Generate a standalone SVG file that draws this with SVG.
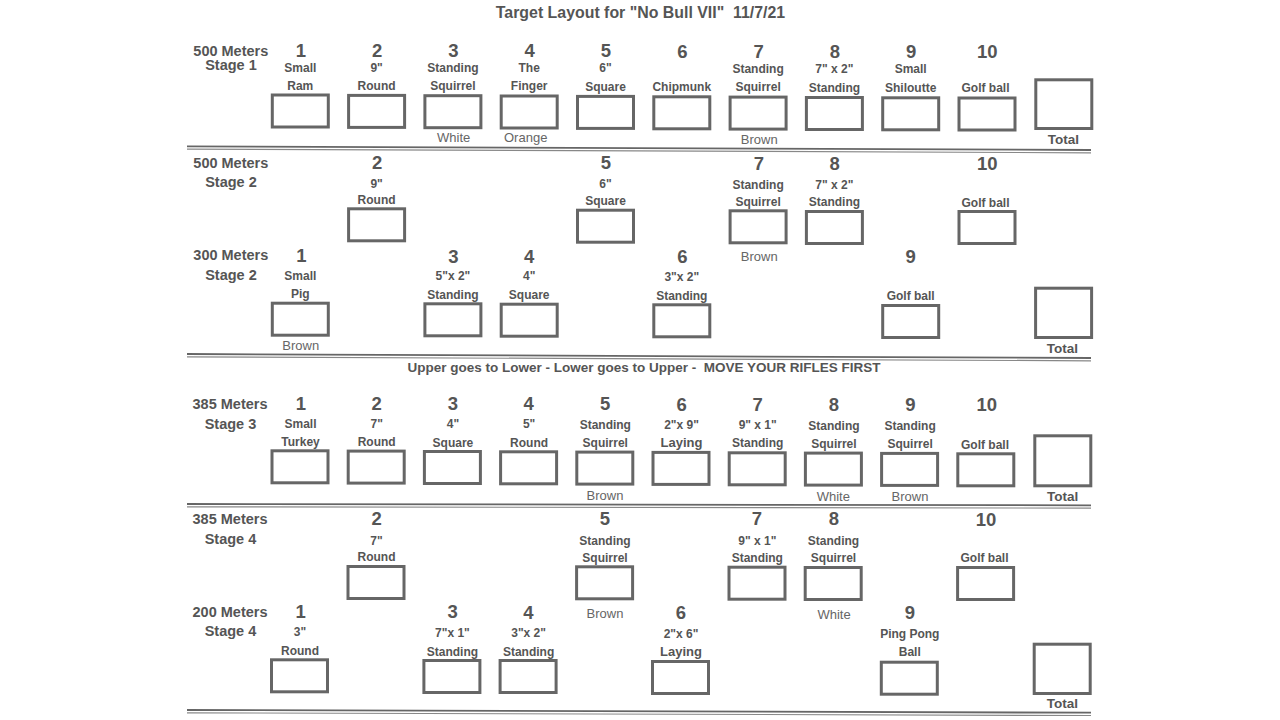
<svg xmlns="http://www.w3.org/2000/svg" width="1280" height="720" viewBox="0 0 1280 720">
<style>
text{font-family:"Liberation Sans",Arial,sans-serif;text-anchor:middle;fill:#555}
.ttl{font-size:15.9px;font-weight:bold}
.stg{font-size:14.5px;font-weight:bold}
.num{font-size:18.5px;font-weight:bold}
.lbl{font-size:12px;font-weight:bold}
.lay{font-size:13px;font-weight:bold}
.clr{font-size:13px;fill:#666}
.tot{font-size:13.5px;font-weight:bold}
.note{font-size:13.5px;font-weight:bold}
.box{fill:none;stroke:#666;stroke-width:3}
.sepA{stroke:#666;stroke-width:1.8}
.sepB{stroke:#888;stroke-width:1.2}
</style>
<rect width="1280" height="720" fill="#fff"/>
<text class="ttl" x="640.5" y="18" xml:space="preserve">Target Layout for "No Bull VII"  11/7/21</text>

<g id="separators">
<line class="sepA" x1="187" y1="146.3" x2="1091" y2="150"/>
<line class="sepB" x1="187" y1="149.1" x2="1091" y2="152.8"/>
<line class="sepA" x1="187" y1="354" x2="1091" y2="358"/>
<line class="sepB" x1="187" y1="356.8" x2="1091" y2="360.8"/>
<line class="sepA" x1="187" y1="504" x2="1091" y2="505.3"/>
<line class="sepB" x1="187" y1="506.8" x2="1091" y2="508.1"/>
<line class="sepA" x1="187" y1="710" x2="1091" y2="712.7"/>
<line class="sepB" x1="187" y1="712.8" x2="1091" y2="715.5"/>
</g>

<text class="note" x="644" y="371.5" xml:space="preserve">Upper goes to Lower - Lower goes to Upper -  MOVE YOUR RIFLES FIRST</text>

<!-- Section 1: 500 Meters Stage 1 -->
<g id="s1-label"><text class="stg" x="230.8" y="56">500 Meters</text><text class="stg" x="231" y="70">Stage 1</text></g>
<g id="s1-t1"><text class="num" x="300.8" y="56.6">1</text><text class="lbl" x="300.3" y="71.5">Small</text><text class="lbl" x="300.3" y="89.5">Ram</text><rect class="box" x="272.3" y="95" width="56" height="32"/></g>
<g id="s1-t2"><text class="num" x="377.1" y="56.8">2</text><text class="lbl" x="376.6" y="71.7">9"</text><text class="lbl" x="376.6" y="89.8">Round</text><rect class="box" x="348.6" y="95.4" width="56" height="32"/></g>
<g id="s1-t3"><text class="num" x="453.4" y="57">3</text><text class="lbl" x="452.9" y="71.9">Standing</text><text class="lbl" x="452.9" y="90.1">Squirrel</text><rect class="box" x="424.9" y="95.7" width="56" height="32"/><text class="clr" x="453.7" y="142.4">White</text></g>
<g id="s1-t4"><text class="num" x="529.7" y="57.2">4</text><text class="lbl" x="529.2" y="72.1">The</text><text class="lbl" x="529.2" y="90.4">Finger</text><rect class="box" x="501.2" y="96" width="56" height="32"/><text class="clr" x="525.7" y="142.4">Orange</text></g>
<g id="s1-t5"><text class="num" x="606" y="57.4">5</text><text class="lbl" x="605.5" y="72.3">6"</text><text class="lbl" x="605.5" y="90.7">Square</text><rect class="box" x="577.5" y="96.4" width="56" height="32"/></g>
<g id="s1-t6"><text class="num" x="682.3" y="57.6">6</text><text class="lbl" x="681.8" y="91">Chipmunk</text><rect class="box" x="653.8" y="96.8" width="56" height="32"/></g>
<g id="s1-t7"><text class="num" x="758.6" y="57.8">7</text><text class="lbl" x="758.1" y="72.7">Standing</text><text class="lbl" x="758.1" y="91.3">Squirrel</text><rect class="box" x="730.1" y="97.1" width="56" height="32"/><text class="clr" x="759.3" y="144">Brown</text></g>
<g id="s1-t8"><text class="num" x="834.9" y="58">8</text><text class="lbl" x="834.4" y="72.9">7" x 2"</text><text class="lbl" x="834.4" y="91.6">Standing</text><rect class="box" x="806.4" y="97.5" width="56" height="32"/></g>
<g id="s1-t9"><text class="num" x="911.2" y="58.2">9</text><text class="lbl" x="910.7" y="73.1">Small</text><text class="lbl" x="910.7" y="91.9">Shiloutte</text><rect class="box" x="882.7" y="97.8" width="56" height="32"/></g>
<g id="s1-t10"><text class="num" x="987.3" y="58.4">10</text><text class="lbl" x="985.5" y="92.2">Golf ball</text><rect class="box" x="959" y="98" width="56" height="32"/></g>
<g id="s1-total"><rect class="box" x="1035.8" y="79.8" width="56" height="48.7"/><text class="tot" x="1063.3" y="144">Total</text></g>

<!-- Section 2: 500 Meters Stage 2 -->
<g id="s2-label"><text class="stg" x="230.8" y="167.5">500 Meters</text><text class="stg" x="231" y="187">Stage 2</text></g>
<g id="s2-t2"><text class="num" x="377.1" y="169">2</text><text class="lbl" x="376.6" y="187.8">9"</text><text class="lbl" x="376.6" y="203.8">Round</text><rect class="box" x="348.6" y="208.8" width="56" height="32"/></g>
<g id="s2-t5"><text class="num" x="606" y="169.3">5</text><text class="lbl" x="605.5" y="188">6"</text><text class="lbl" x="605.5" y="205">Square</text><rect class="box" x="577.5" y="210.2" width="56" height="32"/></g>
<g id="s2-t7"><text class="num" x="758.8" y="170">7</text><text class="lbl" x="758.1" y="188.5">Standing</text><text class="lbl" x="758.1" y="206">Squirrel</text><rect class="box" x="730.1" y="210.8" width="56" height="32"/><text class="clr" x="759.3" y="260.7">Brown</text></g>
<g id="s2-t8"><text class="num" x="834.6" y="170">8</text><text class="lbl" x="834.4" y="188.5">7" x 2"</text><text class="lbl" x="834.4" y="206">Standing</text><rect class="box" x="806.4" y="211.5" width="56" height="32"/></g>
<g id="s2-t10"><text class="num" x="987.3" y="170">10</text><text class="lbl" x="985.5" y="206.8">Golf ball</text><rect class="box" x="959" y="211.5" width="56" height="32"/></g>

<!-- Section 3: 300 Meters Stage 2 -->
<g id="s3-label"><text class="stg" x="230.8" y="260">300 Meters</text><text class="stg" x="231" y="279.5">Stage 2</text></g>
<g id="s3-t1"><text class="num" x="301.3" y="261.6">1</text><text class="lbl" x="300.3" y="279.5">Small</text><text class="lbl" x="300.3" y="297.6">Pig</text><rect class="box" x="272.3" y="303.2" width="56" height="32"/><text class="clr" x="300.7" y="349.7">Brown</text></g>
<g id="s3-t3"><text class="num" x="453.3" y="262.6">3</text><text class="lbl" x="452.9" y="280">5"x 2"</text><text class="lbl" x="452.9" y="298.8">Standing</text><rect class="box" x="424.9" y="303.8" width="56" height="32"/></g>
<g id="s3-t4"><text class="num" x="529.2" y="262.6">4</text><text class="lbl" x="529.2" y="280">4"</text><text class="lbl" x="529.2" y="299.3">Square</text><rect class="box" x="501.2" y="304.2" width="56" height="32"/></g>
<g id="s3-t6"><text class="num" x="682.3" y="262.6">6</text><text class="lbl" x="681.8" y="280.5">3"x 2"</text><text class="lbl" x="681.8" y="299.5">Standing</text><rect class="box" x="653.8" y="304.8" width="56" height="32"/></g>
<g id="s3-t9"><text class="num" x="910.7" y="263.3">9</text><text class="lbl" x="910.7" y="300.2">Golf ball</text><rect class="box" x="882.7" y="305.5" width="56" height="32"/></g>
<g id="s3-total"><rect class="box" x="1035.6" y="288.2" width="56" height="49.3"/><text class="tot" x="1062.3" y="353">Total</text></g>

<!-- Section 4: 385 Meters Stage 3 -->
<g id="s4-label"><text class="stg" x="230" y="409">385 Meters</text><text class="stg" x="230.5" y="428.5">Stage 3</text></g>
<g id="s4-t1"><text class="num" x="300.8" y="410.3">1</text><text class="lbl" x="300.5" y="427.8">Small</text><text class="lbl" x="300.5" y="446">Turkey</text><rect class="box" x="272" y="450.8" width="56" height="32"/></g>
<g id="s4-t2"><text class="num" x="376.7" y="410.3">2</text><text class="lbl" x="376.7" y="428">7"</text><text class="lbl" x="376.7" y="446.2">Round</text><rect class="box" x="348.2" y="451.1" width="56" height="32"/></g>
<g id="s4-t3"><text class="num" x="452.8" y="410.3">3</text><text class="lbl" x="452.9" y="428">4"</text><text class="lbl" x="452.9" y="446.8">Square</text><rect class="box" x="424.4" y="451.5" width="56" height="32"/></g>
<g id="s4-t4"><text class="num" x="528.6" y="410.3">4</text><text class="lbl" x="529.1" y="428">5"</text><text class="lbl" x="529.1" y="446.8">Round</text><rect class="box" x="500.6" y="451.8" width="56" height="32"/></g>
<g id="s4-t5"><text class="num" x="605.1" y="410.3">5</text><text class="lbl" x="605.3" y="428.8">Standing</text><text class="lbl" x="605.3" y="447.2">Squirrel</text><rect class="box" x="576.8" y="452.1" width="56" height="32"/><text class="clr" x="605" y="499.7">Brown</text></g>
<g id="s4-t6"><text class="num" x="681.7" y="410.6">6</text><text class="lbl" x="681.5" y="429.3">2"x 9"</text><text class="lay" x="681.5" y="447.2">Laying</text><rect class="box" x="653" y="452.4" width="56" height="32"/></g>
<g id="s4-t7"><text class="num" x="757.7" y="410.6">7</text><text class="lbl" x="757.7" y="429.3">9" x 1"</text><text class="lbl" x="757.7" y="447.3">Standing</text><rect class="box" x="729.2" y="452.8" width="56" height="32"/></g>
<g id="s4-t8"><text class="num" x="834" y="410.6">8</text><text class="lbl" x="833.9" y="429.5">Standing</text><text class="lbl" x="833.9" y="447.8">Squirrel</text><rect class="box" x="805.4" y="453.1" width="56" height="32"/><text class="clr" x="833.3" y="500.7">White</text></g>
<g id="s4-t9"><text class="num" x="910.5" y="410.6">9</text><text class="lbl" x="910.1" y="430.2">Standing</text><text class="lbl" x="910.1" y="447.8">Squirrel</text><rect class="box" x="881.6" y="453.4" width="56" height="32"/><text class="clr" x="910" y="500.7">Brown</text></g>
<g id="s4-t10"><text class="num" x="986.7" y="410.6">10</text><text class="lbl" x="985" y="448.5">Golf ball</text><rect class="box" x="957.8" y="453.8" width="56" height="32"/></g>
<g id="s4-total"><rect class="box" x="1034.8" y="435.8" width="56" height="50"/><text class="tot" x="1062.7" y="500.7">Total</text></g>

<!-- Section 5: 385 Meters Stage 4 -->
<g id="s5-label"><text class="stg" x="230" y="523.5">385 Meters</text><text class="stg" x="230.5" y="543.5">Stage 4</text></g>
<g id="s5-t2"><text class="num" x="376.7" y="525">2</text><text class="lbl" x="376.5" y="544.5">7"</text><text class="lbl" x="376.5" y="560.5">Round</text><rect class="box" x="348" y="566.5" width="56" height="32"/></g>
<g id="s5-t5"><text class="num" x="605" y="525">5</text><text class="lbl" x="605" y="545">Standing</text><text class="lbl" x="605" y="561.8">Squirrel</text><rect class="box" x="576.6" y="566.8" width="56" height="32"/><text class="clr" x="605" y="618">Brown</text></g>
<g id="s5-t7"><text class="num" x="756.9" y="525">7</text><text class="lbl" x="757.3" y="545.2">9" x 1"</text><text class="lbl" x="757.3" y="561.8">Standing</text><rect class="box" x="729" y="567.2" width="56" height="32"/></g>
<g id="s5-t8"><text class="num" x="834" y="525">8</text><text class="lbl" x="833.5" y="545.2">Standing</text><text class="lbl" x="833.5" y="561.8">Squirrel</text><rect class="box" x="805.2" y="567.5" width="56" height="32"/><text class="clr" x="834" y="618.7">White</text></g>
<g id="s5-t10"><text class="num" x="986" y="526">10</text><text class="lbl" x="984.5" y="562.2">Golf ball</text><rect class="box" x="957.6" y="567.5" width="56" height="32"/></g>

<!-- Section 6: 200 Meters Stage 4 -->
<g id="s6-label"><text class="stg" x="230" y="617">200 Meters</text><text class="stg" x="230.5" y="636.2">Stage 4</text></g>
<g id="s6-t1"><text class="num" x="300.7" y="618.3">1</text><text class="lbl" x="300" y="635.5">3"</text><text class="lbl" x="300" y="654.5">Round</text><rect class="box" x="271.5" y="659.8" width="56" height="32"/></g>
<g id="s6-t3"><text class="num" x="452.7" y="618.3">3</text><text class="lbl" x="452.4" y="636.8">7"x 1"</text><text class="lbl" x="452.4" y="655.5">Standing</text><rect class="box" x="423.9" y="660.5" width="56" height="32"/></g>
<g id="s6-t4"><text class="num" x="528.5" y="618.9">4</text><text class="lbl" x="528.6" y="636.8">3"x 2"</text><text class="lbl" x="528.6" y="656">Standing</text><rect class="box" x="500.1" y="660.5" width="56" height="32"/></g>
<g id="s6-t6"><text class="num" x="680.8" y="619.3">6</text><text class="lbl" x="681" y="637.8">2"x 6"</text><text class="lay" x="681" y="655.7">Laying</text><rect class="box" x="652.5" y="661.5" width="56" height="32"/></g>
<g id="s6-t9"><text class="num" x="910" y="619.3">9</text><text class="lbl" x="909.8" y="637.8">Ping Pong</text><text class="lbl" x="909.8" y="655.5">Ball</text><rect class="box" x="881.3" y="662.2" width="56" height="32"/></g>
<g id="s6-total"><rect class="box" x="1034.2" y="644.2" width="56" height="49.3"/><text class="tot" x="1062.3" y="708">Total</text></g>
</svg>
